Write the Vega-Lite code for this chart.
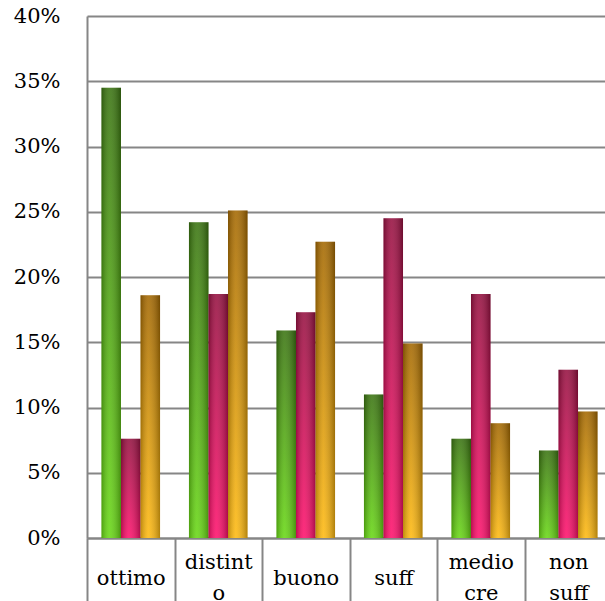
{
  "$schema": "https://vega.github.io/schema/vega-lite/v6.json",
  "autosize": {"type": "none"},
  "padding": {"left": 87, "top": 16, "right": -7, "bottom": 63},
  "width": 525,
  "height": 522,
  "background": "white",
  "config": {"view": {"stroke": null}, "axis": {"labelFont": "DejaVu Serif"}},
  "data": {
    "values": [
      {"cat": "ottimo", "s": "A", "v": 0.345},
      {"cat": "ottimo", "s": "B", "v": 0.076},
      {"cat": "ottimo", "s": "C", "v": 0.186},
      {"cat": "distinto", "s": "A", "v": 0.242},
      {"cat": "distinto", "s": "B", "v": 0.187},
      {"cat": "distinto", "s": "C", "v": 0.251},
      {"cat": "buono", "s": "A", "v": 0.159},
      {"cat": "buono", "s": "B", "v": 0.173},
      {"cat": "buono", "s": "C", "v": 0.227},
      {"cat": "suff", "s": "A", "v": 0.110},
      {"cat": "suff", "s": "B", "v": 0.245},
      {"cat": "suff", "s": "C", "v": 0.149},
      {"cat": "mediocre", "s": "A", "v": 0.076},
      {"cat": "mediocre", "s": "B", "v": 0.187},
      {"cat": "mediocre", "s": "C", "v": 0.088},
      {"cat": "non suff", "s": "A", "v": 0.067},
      {"cat": "non suff", "s": "B", "v": 0.129},
      {"cat": "non suff", "s": "C", "v": 0.097}
    ]
  },
  "encoding": {
    "x": {
      "field": "cat", "type": "nominal",
      "sort": ["ottimo", "distinto", "buono", "suff", "mediocre", "non suff"],
      "scale": {"paddingInner": 0, "paddingOuter": 0},
      "axis": {
        "title": null,
        "labelAngle": 0,
        "labelFontSize": 21,
        "labelColor": "#000000",
        "labelBaseline": "middle",
        "labelLineHeight": 31,
        "labelPadding": {"condition": {"test": "datum.value == 'distinto' || datum.value == 'mediocre' || datum.value == 'non suff'", "value": -39}, "value": -23},
        "labelExpr": "datum.label == 'distinto' ? ['distint', 'o'] : datum.label == 'mediocre' ? ['medio', 'cre'] : datum.label == 'non suff' ? ['non', 'suff'] : datum.label",
        "tickBand": "extent",
        "tickSize": 63,
        "tickColor": "#868686",
        "tickWidth": 2,
        "domainColor": "#868686",
        "domainWidth": 2,
        "labelOverlap": false
      }
    },
    "xOffset": {"field": "s", "type": "nominal", "scale": {"domain": ["A", "B", "C"], "paddingInner": 0, "paddingOuter": 0.74}},
    "y": {
      "field": "v", "type": "quantitative",
      "scale": {"domain": [0, 0.4], "nice": false},
      "axis": {
        "title": null,
        "values": [0, 0.05, 0.1, 0.15, 0.2, 0.25, 0.3, 0.35, 0.4],
        "format": ".0%",
        "labelFontSize": 21,
        "labelColor": "#000000",
        "labelPadding": 27,
        "ticks": false,
        "grid": true,
        "gridColor": "#868686",
        "gridWidth": 2,
        "domainColor": "#868686",
        "domainWidth": 2
      }
    }
  },
  "layer": [
    {
      "transform": [{"filter": "datum.s == 'A'"}],
      "mark": {"type": "bar", "color": {"gradient": "linear", "x1": 0, "y1": 0, "x2": 0, "y2": 1, "stops": [{"offset": 0, "color": "#3a7410"}, {"offset": 1, "color": "#68d814"}]}}
    },
    {
      "transform": [{"filter": "datum.s == 'B'"}],
      "mark": {"type": "bar", "color": {"gradient": "linear", "x1": 0, "y1": 0, "x2": 0, "y2": 1, "stops": [{"offset": 0, "color": "#961040"}, {"offset": 1, "color": "#ff106c"}]}}
    },
    {
      "transform": [{"filter": "datum.s == 'C'"}],
      "mark": {"type": "bar", "color": {"gradient": "linear", "x1": 0, "y1": 0, "x2": 0, "y2": 1, "stops": [{"offset": 0, "color": "#a46800"}, {"offset": 1, "color": "#ffba10"}]}}
    },
    {
      "mark": {"type": "bar", "color": {"gradient": "linear", "x1": 0, "y1": 0, "x2": 1, "y2": 0, "stops": [{"offset": 0, "color": "rgba(0,0,0,0.25)"}, {"offset": 0.4, "color": "rgba(255,255,255,0.12)"}, {"offset": 1, "color": "rgba(0,0,0,0.3)"}]}}
    }
  ]
}
